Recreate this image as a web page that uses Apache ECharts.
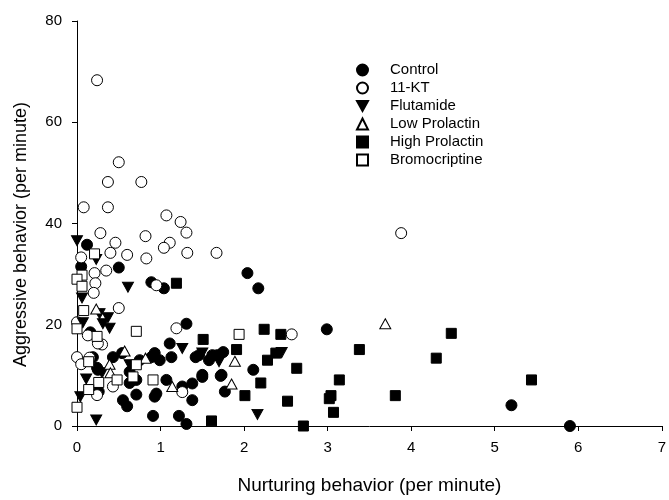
<!DOCTYPE html>
<html>
<head>
<meta charset="utf-8">
<script src="https://cdn.jsdelivr.net/npm/echarts@6/dist/echarts.min.js"></script>
<style>html,body{margin:0;padding:0;background:#fff}#c{width:669px;height:500px}</style>
</head>
<body>
<div id="c"></div>
<script>
var seriesNames = ["Control", "11-KT", "Flutamide", "Low Prolactin", "High Prolactin", "Bromocriptine"];
var xTicks = [0, 1, 2, 3, 4, 5, 6, 7];
var yTicks = [0, 20, 40, 60, 80];

var control = [
  [0.12,35.8],[0.05,31.5],[0.5,31.3],[0.89,28.4],[1.04,27.2],[2.04,30.2],[2.17,27.2],[2.99,19.1],[1.31,20.2],
  [1.75,14.6],[1.62,14.0],[1.58,13.0],[2.11,11.1],[1.5,9.7],[1.72,9.9],[1.77,6.8],[5.2,4.1],[5.9,0],
  [0.55,5.1],[0.6,3.9],[0.71,6.2],[0.91,2.0],[0.95,6.4],[1.22,2.0],[1.31,0.4],[1.38,5.1],
  [1.11,16.3],[1.13,13.6],[1.42,13.6],[1.46,14.0],[1.68,14.0],[1.5,10.1],[1.73,10.1],[1.07,9.1],[1.26,7.8],[1.38,8.4],
  [0.93,14.4],[0.99,13.0],[0.16,18.5],[0.19,13.6],[0.25,11.1],[0.43,13.6],[0.54,14.4],[0.63,10.7],[0.75,13.0],
  [0.89,13.6],[0.26,6.8],[0.71,9.1],[0.63,8.5],[0.24,11.5],[0.93,5.8]
];
var kt11 = [
  [0.24,68.3],[0.5,52.1],[0.37,48.2],[0.77,48.2],[0.08,43.2],[0.37,43.2],[1.07,41.6],[1.24,40.3],[1.31,38.2],
  [0.28,38.1],[0.82,37.5],[0.46,36.2],[1.11,36.2],[1.04,35.2],[0.40,34.2],[0.60,33.8],[1.32,34.2],[1.67,34.2],
  [0.83,33.1],[0.05,33.3],[0.35,30.7],[0.21,30.2],[0.22,28.2],[0.20,26.3],[0.95,27.8],[0.5,23.3],[3.88,38.1],
  [2.57,18.1],[1.19,19.3],[0.0,20.5],[0.13,17.9],[0.3,16.1],[0.0,13.6],[0.05,12.2],[0.43,7.8],[0.24,6.1],
  [1.26,6.7],[0.15,13.5],[0.25,16.3]
];
var flutamide = [
  [0.0,36.6],[0.23,32.9],[0.61,27.4],[0.06,25.3],[0.27,22.2],[0.37,21.4],[0.31,20.2],[0.39,19.3],[0.07,20.4],
  [0.11,9.3],[0.04,5.8],[0.23,1.2],[2.16,2.3],[1.26,15.3],[1.5,14.4],[1.7,12.7],[2.45,14.5],[0.63,12.1],[0.3,10.5]
];
var lowProlactin = [
  [0.23,23.1],[0.57,14.8],[0.39,12.2],[0.4,10.5],[0.82,13.4],[1.14,7.8],[1.89,12.8],[1.85,8.3],[3.69,20.2]
];
var highProlactin = [
  [1.19,28.2],[2.24,19.1],[2.44,18.1],[1.51,17.1],[1.91,15.1],[3.38,15.1],[2.38,14.4],[2.28,13.0],[2.63,11.4],
  [2.2,8.5],[3.14,9.1],[2.01,6.0],[2.52,4.9],[3.04,6.0],[3.02,5.4],[3.07,2.7],[3.81,6.0],[1.61,1.0],[2.71,0],
  [4.48,18.3],[4.3,13.4],[5.44,9.1]
];
var bromocriptine = [
  [0.21,34.0],[0.06,29.8],[0.0,29.0],[0.06,27.6],[0.08,22.8],[0.0,19.2],[0.24,17.7],[0.71,18.7],[0.14,12.7],
  [0.71,12.1],[0.26,8.6],[0.14,7.2],[0.48,9.1],[0.67,9.7],[0.91,9.1],[0.0,3.7],[1.94,18.1]
];

var triDown = 'path://M0,0 L10,0 L5,9 Z';
var font = 'Liberation Sans, Arial, sans-serif';
function mk(name, data, symbol, size, filled) {
  return {
    name: name, type: 'scatter', data: data, symbol: symbol, symbolSize: size,
    itemStyle: { color: filled ? '#000' : '#fff', borderColor: '#000', borderWidth: 1, opacity: 1 },
    emphasis: { disabled: true }
  };
}
var chart = echarts.init(document.getElementById('c'), null, { renderer: 'canvas' });
chart.setOption({
  animation: false,
  backgroundColor: '#fff',
  grid: { left: 77, right: 4, top: 21, bottom: 68, containLabel: false },
  legend: {
    orient: 'vertical', left: 351, top: 57, itemWidth: 11, itemHeight: 11, itemGap: 2,
    textStyle: { fontFamily: font, fontSize: 15, lineHeight: 16, color: '#000', padding: [0, 0, 0, 17] },
    data: seriesNames
  },
  xAxis: {
    type: 'value', min: xTicks[0], max: xTicks[xTicks.length - 1], interval: 1,
    name: 'Nurturing behavior (per minute)', nameLocation: 'middle', nameGap: 50,
    nameTextStyle: { fontFamily: font, fontSize: 19, color: '#000' },
    axisLine: { show: true, lineStyle: { color: '#000', width: 1 } },
    axisTick: { show: true, length: 5, lineStyle: { color: '#000' } },
    axisLabel: { fontFamily: font, fontSize: 15, color: '#000', margin: 14 },
    splitLine: { show: false }
  },
  yAxis: {
    type: 'value', min: yTicks[0], max: yTicks[yTicks.length - 1], interval: 20,
    name: 'Aggressive behavior (per minute)', nameLocation: 'middle', nameGap: 47,
    nameTextStyle: { fontFamily: font, fontSize: 18, color: '#000', padding: [0, 22, 0, 0] },
    axisLine: { show: true, lineStyle: { color: '#000', width: 1 } },
    axisTick: { show: true, length: 5, lineStyle: { color: '#000' } },
    axisLabel: { fontFamily: font, fontSize: 15, color: '#000', margin: 15 },
    splitLine: { show: false }
  },
  series: [
    mk(seriesNames[0], control, 'circle', 11, true),
    mk(seriesNames[1], kt11, 'circle', 11, false),
    mk(seriesNames[2], flutamide, triDown, [11, 10], true),
    mk(seriesNames[3], lowProlactin, 'triangle', [11, 10], false),
    mk(seriesNames[4], highProlactin, 'rect', 10, true),
    mk(seriesNames[5], bromocriptine, 'rect', 10, false)
  ]
});
</script>
</body>
</html>
